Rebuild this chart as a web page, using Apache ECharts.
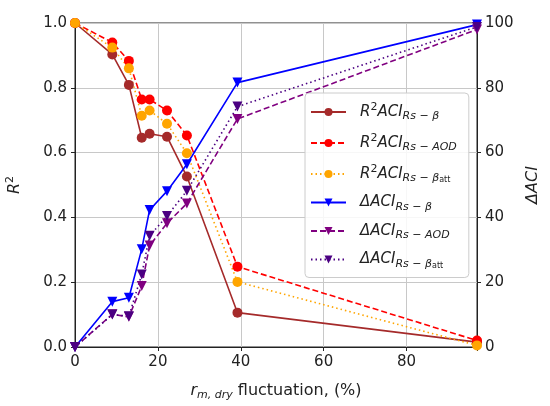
<!DOCTYPE html>
<html><head><meta charset="utf-8">
<script src="https://cdn.jsdelivr.net/npm/echarts@6/dist/echarts.min.js"></script>
<style>html,body{margin:0;padding:0;background:#fff}#c{width:550px;height:406px}</style>
</head><body><div id="c"></div>
<script>
const fluctuation = [0, 9, 13, 16.1, 18, 22.2, 27, 39.2, 97];
const r2Beta    = [1.0, 0.903, 0.809, 0.646, 0.658, 0.649, 0.526, 0.106, 0.015];
const r2Aod     = [1.0, 0.940, 0.883, 0.764, 0.764, 0.730, 0.653, 0.248, 0.02];
const r2BetaAtt = [1.0, 0.924, 0.860, 0.714, 0.730, 0.689, 0.598, 0.201, 0.005];
const dBeta     = [0, 14.0, 15.2, 30.2, 42.3, 48.1, 56.4, 81.6, 99.5];
const dAod      = [0, 10.1, 9.3, 18.8, 31.3, 38.2, 44.3, 70.4, 98.0];
const dBetaAtt  = [0, 10.0, 9.5, 22.4, 34.3, 40.4, 48.2, 74.2, 98.8];
const seriesNames = ['r2b', 'r2aod', 'r2batt', 'db', 'daod', 'dbatt'];
const legendLabels = {
  r2b: '{g|}{m|R}{p|2}{m|ACI}{s|Rs − β}',
  r2aod: '{g|}{m|R}{p|2}{m|ACI}{s|Rs − AOD}',
  r2batt: '{g|}{m|R}{p|2}{m|ACI}{s|Rs − β}{ss|att}',
  db: '{g|}{m|ΔACI}{s|Rs − β}',
  daod: '{g|}{m|ΔACI}{s|Rs − AOD}',
  dbatt: '{g|}{m|ΔACI}{s|Rs − β}{ss|att}'
};
const xTicks = [0, 20, 40, 60, 80];

const pairs = (ys) => fluctuation.map((x, i) => [x, ys[i]]);
const FONT = 'DejaVu Sans';
const dashed = [6, 3];
const dotted = [1.5, 3];

function mk(name, ys, color, type, symbol, axis) {
  return {
    name: name, type: 'line', data: pairs(ys), yAxisIndex: axis,
    symbol: symbol === 'tri' ? 'triangle' : 'circle',
    symbolRotate: symbol === 'tri' ? 180 : 0,
    symbolSize: 10,
    showSymbol: true,
    lineStyle: { color: color, width: 1.6, type: type },
    itemStyle: { color: color, borderWidth: 0 },
    emphasis: { disabled: true },
    animation: false
  };
}

const chart = echarts.init(document.getElementById('c'));
chart.setOption({
  backgroundColor: '#fff',
  animation: false,
  grid: { left: 75, right: 73, top: 23, bottom: 59, show: true, borderColor: '#222', borderWidth: 1, backgroundColor: 'transparent', outerBoundsMode: 'none', containLabel: false },
  xAxis: {
    type: 'value', min: 0, max: 97, interval: 20,
    axisLine: { show: true, lineStyle: { color: '#222' } },
    axisTick: { show: true, inside: false, length: 4, lineStyle: { color: '#222' } },
    axisLabel: { color: '#222', fontFamily: FONT, fontSize: 15, margin: 8,
      formatter: v => xTicks.includes(v) ? String(v) : '' },
    splitLine: { show: true, lineStyle: { color: '#c8c8c8', width: 1 } },
    name: '{i|r}{s|m, dry}{t| fluctuation, (%)}',
    nameLocation: 'middle', nameGap: 34,
    nameTextStyle: { color: '#222', fontFamily: FONT, rich: {
      i: { fontSize: 16, fontStyle: 'italic', fontFamily: FONT, lineHeight: 20, color: '#222' },
      s: { fontSize: 11, fontStyle: 'italic', fontFamily: FONT, lineHeight: 10, verticalAlign: 'bottom', color: '#222' },
      t: { fontSize: 16, fontFamily: FONT, lineHeight: 20, color: '#222' }
    } }
  },
  yAxis: [{
    type: 'value', min: 0, max: 1, interval: 0.2, position: 'left',
    axisLine: { show: true, lineStyle: { color: '#222' } },
    axisTick: { show: true, inside: false, length: 4, lineStyle: { color: '#222' } },
    axisLabel: { color: '#222', fontFamily: FONT, fontSize: 15, margin: 8, formatter: v => v.toFixed(1) },
    splitLine: { show: true, lineStyle: { color: '#c8c8c8', width: 1 } },
    name: '{m|R}{p|2}', nameLocation: 'middle', nameGap: 50, nameRotate: 90,
    nameTextStyle: { color: '#222', fontFamily: FONT, rich: {
      m: { fontSize: 16, fontStyle: 'italic', fontFamily: FONT, lineHeight: 20, color: '#222' },
      p: { fontSize: 11, fontFamily: FONT, lineHeight: 12, verticalAlign: 'top', color: '#222' }
    } }
  }, {
    type: 'value', min: 0, max: 100, interval: 20, position: 'right',
    axisLine: { show: true, lineStyle: { color: '#222' } },
    axisTick: { show: true, inside: false, length: 4, lineStyle: { color: '#222' } },
    axisLabel: { color: '#222', fontFamily: FONT, fontSize: 15, margin: 8 },
    splitLine: { show: false },
    name: 'ΔACI', nameLocation: 'middle', nameGap: 48, nameRotate: 90,
    nameTextStyle: { color: '#222', fontFamily: FONT, fontSize: 16, fontStyle: 'italic' }
  }],
  legend: {
    orient: 'vertical', left: 305, top: 93,
    data: seriesNames,
    itemWidth: 35, itemHeight: 10, itemGap: 11,
    padding: [9, 12, 8, 5],
    backgroundColor: 'rgba(255,255,255,0.85)', borderColor: '#cccccc', borderWidth: 1, borderRadius: 4,
    formatter: n => legendLabels[n],
    selectedMode: false,
    textStyle: { color: '#222', fontFamily: FONT, rich: {
      g: { width: 9, lineHeight: 20 },
      m: { fontSize: 15, fontStyle: 'italic', fontFamily: FONT, lineHeight: 20, color: '#222' },
      p: { fontSize: 11, fontFamily: FONT, lineHeight: 12, verticalAlign: 'top', color: '#222' },
      s: { fontSize: 11, fontStyle: 'italic', fontFamily: FONT, lineHeight: 10, verticalAlign: 'bottom', color: '#222' },
      ss: { fontSize: 8, fontFamily: FONT, lineHeight: 5, verticalAlign: 'bottom', color: '#222' }
    } }
  },
  series: [
    mk('r2b', r2Beta, '#a52a2a', 'solid', 'circle', 0),
    mk('r2aod', r2Aod, '#ff0000', dashed, 'circle', 0),
    mk('r2batt', r2BetaAtt, '#ffa500', dotted, 'circle', 0),
    mk('db', dBeta, '#0000ff', 'solid', 'tri', 1),
    mk('daod', dAod, '#800080', dashed, 'tri', 1),
    mk('dbatt', dBetaAtt, '#4b0082', dotted, 'tri', 1)
  ]
});
</script></body></html>
